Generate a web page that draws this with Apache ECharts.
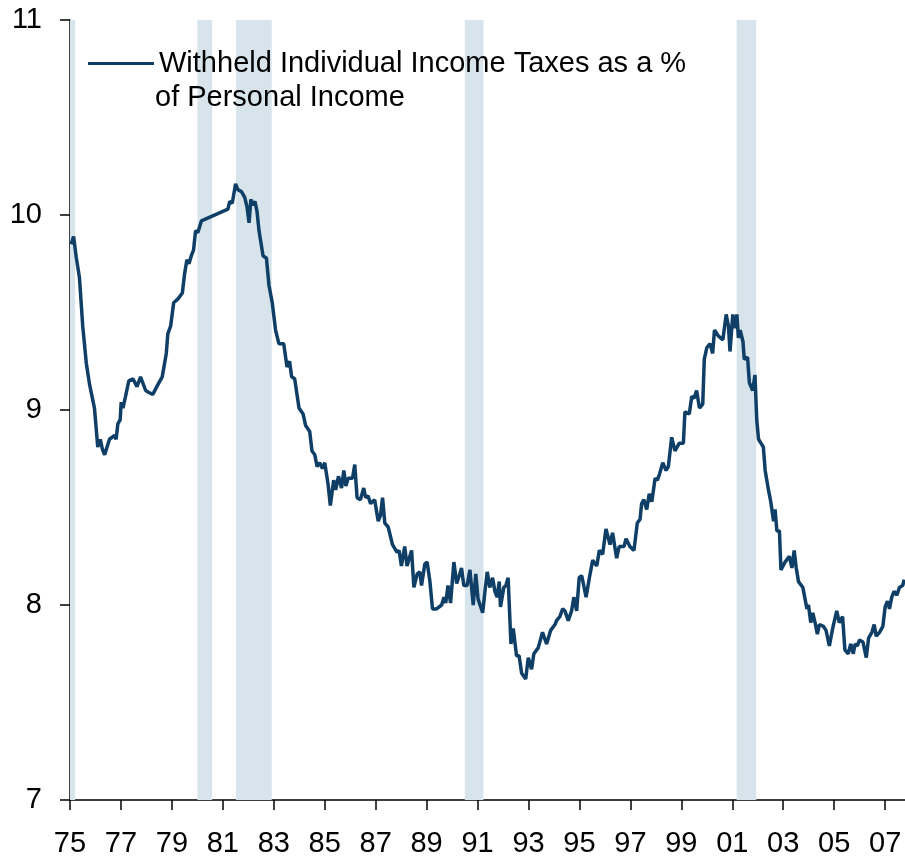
<!DOCTYPE html>
<html>
<head>
<meta charset="utf-8">
<script src="https://cdn.jsdelivr.net/npm/echarts@6/dist/echarts.min.js"></script>
<style>
  html, body { margin: 0; padding: 0; background: #fff; }
  #chart { width: 905px; height: 856px; }
</style>
</head>
<body>
<div id="chart"></div>
<script>
// decimal year of each reading
const years = [
  1975.05, 1975.14, 1975.25, 1975.37, 1975.5, 1975.64, 1975.77, 1975.96,
  1976.09, 1976.19, 1976.27, 1976.36, 1976.55, 1976.75, 1976.81, 1976.88, 1976.97,
  1977.01, 1977.08, 1977.18, 1977.31, 1977.47, 1977.63, 1977.77, 1977.97,
  1978.1, 1978.25, 1978.45, 1978.62, 1978.78, 1978.84, 1978.95,
  1979.07, 1979.24, 1979.41, 1979.5, 1979.59, 1979.67, 1979.76, 1979.85, 1979.93,
  1980.02, 1980.16,
  1981.2, 1981.27, 1981.37, 1981.5, 1981.59, 1981.73, 1981.86, 1981.95,
  1982.03, 1982.1, 1982.18, 1982.26, 1982.34, 1982.42, 1982.58, 1982.71, 1982.81, 1982.94,
  1983.07, 1983.2, 1983.39, 1983.52, 1983.62, 1983.7, 1983.82, 1983.99,
  1984.15, 1984.25, 1984.41, 1984.5, 1984.61, 1984.7, 1984.8, 1984.91,
  1985.0, 1985.13, 1985.22, 1985.35, 1985.43, 1985.54, 1985.66, 1985.75, 1985.83, 1985.92,
  1986.09, 1986.18, 1986.27, 1986.4, 1986.53, 1986.61, 1986.7, 1986.8, 1986.96,
  1987.1, 1987.19, 1987.27, 1987.36, 1987.49, 1987.66, 1987.84, 1987.92,
  1988.01, 1988.14, 1988.23, 1988.41, 1988.5, 1988.63, 1988.73, 1988.8, 1988.93,
  1989.02, 1989.13, 1989.23, 1989.39, 1989.59, 1989.68, 1989.75, 1989.84, 1989.94,
  1990.07, 1990.18, 1990.28, 1990.37, 1990.46, 1990.59, 1990.7, 1990.83, 1990.93,
  1991.02, 1991.2, 1991.29, 1991.38, 1991.48, 1991.59, 1991.68, 1991.77, 1991.85, 1991.9,
  1992.03, 1992.11, 1992.2, 1992.31, 1992.4, 1992.53, 1992.63, 1992.73, 1992.89, 1992.99,
  1993.12, 1993.21, 1993.38, 1993.55, 1993.71, 1993.87,
  1994.04, 1994.1, 1994.23, 1994.34, 1994.43, 1994.56, 1994.69, 1994.78, 1994.89, 1994.99,
  1995.09, 1995.26, 1995.39, 1995.52, 1995.68, 1995.78, 1995.91,
  1996.04, 1996.2, 1996.3, 1996.46, 1996.56, 1996.75, 1996.83, 1996.98,
  1997.14, 1997.27, 1997.38, 1997.44, 1997.53, 1997.64, 1997.74, 1997.84, 1997.97,
  1998.06, 1998.14, 1998.27, 1998.4, 1998.49, 1998.62, 1998.75, 1998.92,
  1999.08, 1999.14, 1999.31, 1999.41, 1999.5, 1999.6, 1999.71, 1999.84, 1999.9,
  2000.0, 2000.13, 2000.23, 2000.3, 2000.45, 2000.63, 2000.76, 2000.85, 2000.91,
  2001.02, 2001.11, 2001.18, 2001.24, 2001.31, 2001.42, 2001.47, 2001.6, 2001.67, 2001.8, 2001.89, 2001.96,
  2002.03, 2002.22, 2002.29, 2002.42, 2002.51, 2002.62, 2002.68, 2002.75, 2002.85, 2002.91,
  2003.07, 2003.24, 2003.34, 2003.43, 2003.51, 2003.6, 2003.77, 2003.93, 2003.99,
  2004.08, 2004.16, 2004.25, 2004.34, 2004.42, 2004.58, 2004.68, 2004.81, 2004.94,
  2005.1, 2005.2, 2005.33, 2005.42, 2005.55, 2005.65, 2005.75, 2005.82, 2005.91, 2005.99,
  2006.13, 2006.26, 2006.35, 2006.48, 2006.57, 2006.65, 2006.78, 2006.91,
  2007.0, 2007.09, 2007.17, 2007.26, 2007.35, 2007.46, 2007.56, 2007.69, 2007.75
];

// withheld taxes, % of personal income
const withheld = [
  9.85, 9.89, 9.78, 9.68, 9.43, 9.24, 9.13, 9.01,
  8.81, 8.85, 8.80, 8.77, 8.85, 8.87, 8.85, 8.93, 8.95,
  9.04, 9.01, 9.07, 9.15, 9.16, 9.12, 9.17, 9.10,
  9.09, 9.08, 9.13, 9.17, 9.29, 9.39, 9.43,
  9.55, 9.57, 9.60, 9.70, 9.77, 9.75, 9.79, 9.82, 9.92,
  9.91, 9.97,
  10.03, 10.07, 10.06, 10.16, 10.13, 10.12, 10.09, 10.04,
  9.96, 10.08, 10.05, 10.07, 10.02, 9.92, 9.79, 9.78, 9.64, 9.55,
  9.41, 9.34, 9.34, 9.22, 9.25, 9.17, 9.16, 9.01,
  8.98, 8.92, 8.89, 8.79, 8.77, 8.71, 8.73, 8.70,
  8.73, 8.62, 8.51, 8.64, 8.59, 8.66, 8.60, 8.69, 8.61, 8.65,
  8.65, 8.72, 8.55, 8.54, 8.60, 8.55, 8.56, 8.52, 8.54,
  8.43, 8.46, 8.55, 8.42, 8.40, 8.31, 8.27, 8.28,
  8.20, 8.30, 8.20, 8.28, 8.09, 8.16, 8.17, 8.10, 8.21,
  8.22, 8.12, 7.98, 7.98, 8.00, 8.04, 8.01, 8.10, 8.01,
  8.22, 8.11, 8.15, 8.19, 8.10, 8.10, 8.18, 8.00, 8.16,
  8.03, 7.96, 8.07, 8.17, 8.09, 8.14, 8.07, 8.04, 8.12, 7.99,
  8.09, 8.10, 8.14, 7.80, 7.88, 7.74, 7.74, 7.65, 7.62, 7.73,
  7.67, 7.75, 7.78, 7.86, 7.80, 7.87,
  7.90, 7.92, 7.94, 7.98, 7.97, 7.92, 7.97, 8.04, 7.97, 8.14,
  8.15, 8.04, 8.14, 8.23, 8.20, 8.28, 8.26,
  8.39, 8.31, 8.37, 8.24, 8.30, 8.30, 8.34, 8.30,
  8.28, 8.42, 8.44, 8.52, 8.54, 8.49, 8.57, 8.53, 8.65,
  8.64, 8.67, 8.73, 8.69, 8.71, 8.86, 8.79, 8.83,
  8.83, 8.99, 8.98, 9.07, 9.06, 9.10, 9.01, 9.03, 9.26,
  9.32, 9.34, 9.29, 9.41, 9.38, 9.36, 9.49, 9.43, 9.30,
  9.49, 9.42, 9.49, 9.37, 9.41, 9.35, 9.26, 9.27, 9.14, 9.10, 9.18, 8.95,
  8.85, 8.81, 8.69, 8.59, 8.53, 8.43, 8.49, 8.38, 8.38, 8.18,
  8.22, 8.25, 8.19, 8.28, 8.19, 8.12, 8.09, 7.98, 8.00,
  7.91, 7.96, 7.91, 7.85, 7.90, 7.89, 7.87, 7.79, 7.88,
  7.97, 7.91, 7.94, 7.77, 7.75, 7.80, 7.75, 7.80, 7.79, 7.82,
  7.81, 7.73, 7.83, 7.86, 7.90, 7.84, 7.86, 7.89,
  7.99, 8.02, 7.98, 8.04, 8.07, 8.05, 8.09, 8.10, 8.13
];

// recessions (start, end) in decimal years
const recessionStart = [1974.9, 1980.0, 1981.52, 1990.5, 2001.17];
const recessionEnd = [1975.2, 1980.58, 1982.92, 1991.23, 2001.94];

const tickYears = [1975, 1977, 1979, 1981, 1983, 1985, 1987, 1989, 1991,
  1993, 1995, 1997, 1999, 2001, 2003, 2005, 2007];

const seriesName = 'Withheld Individual Income Taxes as a %';
const seriesName2 = 'of Personal Income';

const font = '"Liberation Sans", Arial, sans-serif';
const lineColor = '#0f3f66';
const shadeColor = '#d7e4eb';

const chart = echarts.init(document.getElementById('chart'));

chart.setOption({
  backgroundColor: '#fff',
  animation: false,
  grid: {left: 70, right: 0, top: 20, bottom: 56, outerBoundsMode: 'none'},
  legend: {
    left: 83,
    top: 44,
    icon: 'rect',
    itemWidth: 66,
    itemHeight: 3,
    textStyle: {fontFamily: font, fontSize: 29, color: '#000'},
    data: [seriesName]
  },
  // second line of the legend label
  graphic: [{
    type: 'text',
    left: 155,
    top: 83,
    z: 100,
    style: {text: seriesName2, font: '29px ' + font, fill: '#000'}
  }],
  xAxis: {
    type: 'value',
    min: 1975,
    max: 2007.78,
    splitLine: {show: false},
    axisLine: {onZero: false, lineStyle: {color: '#000', width: 1.5}},
    axisTick: {length: 10, lineStyle: {color: '#000', width: 1.5}, customValues: tickYears},
    axisLabel: {
      customValues: tickYears,
      margin: 29,
      fontFamily: font,
      fontSize: 29,
      color: '#000',
      formatter: v => String(Math.round(v) % 100).padStart(2, '0')
    }
  },
  yAxis: {
    type: 'value',
    min: 7,
    max: 11,
    interval: 1,
    splitLine: {show: false},
    axisLine: {show: true, lineStyle: {color: '#000', width: 1.5}},
    axisTick: {show: true, length: 10, lineStyle: {color: '#000', width: 1.5}},
    axisLabel: {margin: 28, fontFamily: font, fontSize: 29, color: '#000'}
  },
  series: [{
    name: seriesName,
    type: 'line',
    symbol: 'none',
    lineStyle: {color: lineColor, width: 3.5},
    itemStyle: {color: lineColor},
    data: years.map((y, i) => [y, withheld[i]]),
    markArea: {
      silent: true,
      itemStyle: {color: shadeColor},
      data: recessionStart.map((s, i) => [{xAxis: s}, {xAxis: recessionEnd[i]}])
    },
    z: 3
  }]
});
</script>
</body>
</html>
